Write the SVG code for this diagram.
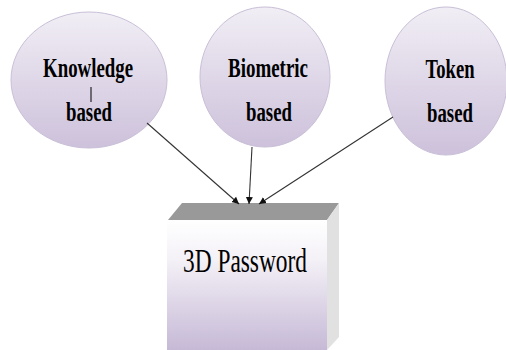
<svg xmlns="http://www.w3.org/2000/svg" width="506" height="350" viewBox="0 0 506 350">
<defs>
<linearGradient id="eg" x1="0" y1="0" x2="0" y2="1">
<stop offset="0" stop-color="#f1eef5"/>
<stop offset="1" stop-color="#cdc1db"/>
</linearGradient>
<linearGradient id="bg" x1="0" y1="0" x2="0" y2="1">
<stop offset="0" stop-color="#ffffff"/>
<stop offset="0.3" stop-color="#f4f1f7"/>
<stop offset="1" stop-color="#c6b9d6"/>
</linearGradient>
<marker id="ah" markerWidth="8" markerHeight="8" refX="7" refY="4" orient="auto" markerUnits="userSpaceOnUse">
<path d="M0,0.5 L7,4 L0,7.5 z" fill="#111"/>
</marker>
<style>
.node ellipse{fill:url(#eg);stroke:#c9bfd7;stroke-width:1}
.lbl{font-family:"Liberation Serif","Times New Roman",serif;font-weight:bold;font-size:27px;fill:#000}
.conn line{stroke:#333;stroke-width:1.1;marker-end:url(#ah)}
</style>
</defs>
<rect width="506" height="350" fill="#fff"/>
<g id="password">
<polygon points="168,220 182,203 339,203 327,220" fill="#999999"/>
<polygon points="327,220 339,203 339,337 327,350" fill="#e1e1e1"/>
<rect x="167" y="220" width="160" height="130" fill="url(#bg)"/>
<text x="245" y="272" text-anchor="middle" font-family="'Liberation Serif', 'Times New Roman', serif" font-size="33" textLength="124" lengthAdjust="spacingAndGlyphs" fill="#000">3D Password</text>
</g>
<g id="knowledge" class="node">
<ellipse cx="89" cy="80" rx="78" ry="68"/>
<text class="lbl" x="88" y="77" text-anchor="middle" textLength="90" lengthAdjust="spacingAndGlyphs">Knowledge</text>
<line x1="91" y1="87" x2="91" y2="102" stroke="#000" stroke-width="1"/>
<text class="lbl" x="89" y="121" text-anchor="middle" textLength="46" lengthAdjust="spacingAndGlyphs">based</text>
</g>
<g id="biometric" class="node">
<ellipse cx="265" cy="77" rx="65" ry="70"/>
<text class="lbl" x="268" y="77" text-anchor="middle" textLength="80" lengthAdjust="spacingAndGlyphs">Biometric</text>
<text class="lbl" x="269" y="121" text-anchor="middle" textLength="46" lengthAdjust="spacingAndGlyphs">based</text>
</g>
<g id="token" class="node">
<ellipse cx="446" cy="81" rx="61" ry="74"/>
<text class="lbl" x="450" y="78" text-anchor="middle" textLength="49" lengthAdjust="spacingAndGlyphs">Token</text>
<text class="lbl" x="450" y="122" text-anchor="middle" textLength="46" lengthAdjust="spacingAndGlyphs">based</text>
</g>
<g id="connectors" class="conn">
<line x1="147" y1="123" x2="239" y2="204"/>
<line x1="252" y1="147" x2="249" y2="204"/>
<line x1="393" y1="117" x2="259" y2="204"/>
</g>
</svg>
